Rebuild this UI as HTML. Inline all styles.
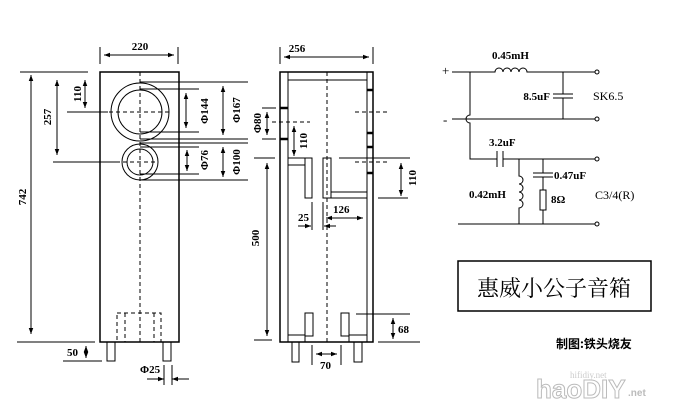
<!DOCTYPE html>
<html><head><meta charset="utf-8"><style>
html,body{margin:0;padding:0;background:#fff}
svg{display:block}
text{font-family:"Liberation Serif","Noto Serif CJK SC",serif;font-weight:bold;font-size:11px;fill:#000}
</style></head><body>
<svg width="680" height="412" viewBox="0 0 680 412" xmlns="http://www.w3.org/2000/svg">
<defs>
<marker id="a" viewBox="0 0 8 8" refX="8" refY="4" markerWidth="6" markerHeight="6" orient="auto-start-reverse"><path d="M0,1 L8,4 L0,7z" fill="#000"/></marker>
</defs>
<g stroke="#000" fill="none" stroke-width="1">
<rect x="100" y="72" width="79" height="270" stroke-width="1.5"/>
<line x1="140" y1="72" x2="140" y2="342" stroke-dasharray="4,3"/>
<circle cx="140" cy="112" r="29"/><circle cx="140" cy="112" r="22"/>
<circle cx="140" cy="162" r="18"/><circle cx="140" cy="162" r="13"/>
<line x1="67" y1="112" x2="170" y2="112" stroke-dasharray="4,3"/>
<line x1="53" y1="162" x2="158" y2="162" stroke-dasharray="4,3"/>
<line x1="67" y1="112" x2="108" y2="112"/><line x1="53" y1="162" x2="120" y2="162"/>
<rect x="117" y="313" width="44" height="29" stroke-dasharray="4,3"/>
<line x1="125" y1="313" x2="125" y2="342" stroke-dasharray="4,3"/>
<line x1="154" y1="313" x2="154" y2="342" stroke-dasharray="4,3"/>
<rect x="107" y="342" width="8" height="19"/><rect x="163" y="342" width="8" height="19"/>
<line x1="100" y1="47" x2="100" y2="64"/><line x1="178" y1="47" x2="178" y2="64"/>
<line x1="104" y1="55" x2="174" y2="55" marker-start="url(#a)" marker-end="url(#a)"/>
<line x1="20" y1="72" x2="88" y2="72"/><line x1="17" y1="342" x2="95" y2="342"/>
<line x1="31" y1="75" x2="31" y2="334" marker-start="url(#a)" marker-end="url(#a)"/>
<line x1="57" y1="80" x2="57" y2="155" marker-start="url(#a)" marker-end="url(#a)"/>
<line x1="85" y1="80" x2="85" y2="108" marker-start="url(#a)" marker-end="url(#a)"/>
<line x1="140" y1="89" x2="199" y2="89"/><line x1="140" y1="132" x2="199" y2="132"/>
<line x1="186" y1="93" x2="186" y2="128" marker-start="url(#a)" marker-end="url(#a)"/>
<line x1="140" y1="82" x2="248" y2="82"/><line x1="140" y1="139" x2="248" y2="139"/>
<line x1="223" y1="86" x2="223" y2="135" marker-start="url(#a)" marker-end="url(#a)"/>
<line x1="140" y1="147" x2="199" y2="147"/><line x1="140" y1="174" x2="199" y2="174"/>
<line x1="187" y1="150" x2="187" y2="171" marker-start="url(#a)" marker-end="url(#a)"/>
<line x1="140" y1="143" x2="248" y2="143"/><line x1="140" y1="180" x2="248" y2="180"/>
<line x1="223" y1="147" x2="223" y2="177" marker-start="url(#a)" marker-end="url(#a)"/>
<line x1="86" y1="346" x2="86" y2="358" marker-start="url(#a)" marker-end="url(#a)"/>
<line x1="63" y1="361" x2="102" y2="361"/>
<line x1="164" y1="365" x2="164" y2="385"/><line x1="172" y1="365" x2="172" y2="385"/>
<line x1="147" y1="379" x2="164" y2="379" marker-end="url(#a)"/>
<line x1="189" y1="379" x2="172" y2="379" marker-end="url(#a)"/>
<rect x="280" y="72" width="93" height="270" stroke-width="1.5"/>
<line x1="288" y1="72" x2="288" y2="342"/><line x1="367" y1="72" x2="367" y2="342"/>
<line x1="288" y1="80" x2="367" y2="80"/>
<line x1="327" y1="72" x2="327" y2="342" stroke-dasharray="4,3"/>
<g stroke-width="2.5">
<line x1="280" y1="108" x2="288" y2="108"/><line x1="280" y1="139" x2="288" y2="139"/>
<line x1="367" y1="90" x2="373" y2="90"/><line x1="367" y1="133" x2="373" y2="133"/>
<line x1="367" y1="147" x2="373" y2="147"/><line x1="367" y1="173" x2="373" y2="173"/>
</g>
<rect x="288" y="158" width="17" height="7"/><rect x="305" y="158" width="7" height="40"/>
<rect x="323" y="158" width="8" height="40"/><rect x="331" y="192" width="36" height="6"/>
<line x1="272" y1="122" x2="310" y2="122" stroke-dasharray="4,3"/>
<line x1="355" y1="112" x2="390" y2="112" stroke-dasharray="4,3"/>
<line x1="355" y1="162" x2="388" y2="162" stroke-dasharray="4,3"/>
<rect x="305" y="313" width="8" height="23"/><rect x="341" y="313" width="8" height="23"/>
<rect x="288" y="335" width="17" height="7"/><rect x="349" y="335" width="18" height="7"/>
<rect x="292" y="342" width="7" height="20"/><rect x="354" y="342" width="8" height="20"/>
<line x1="280" y1="47" x2="280" y2="64"/><line x1="373" y1="47" x2="373" y2="64"/>
<line x1="284" y1="57" x2="369" y2="57" marker-start="url(#a)" marker-end="url(#a)"/>
<line x1="262" y1="108" x2="276" y2="108"/><line x1="262" y1="139" x2="276" y2="139"/>
<line x1="267" y1="112" x2="267" y2="135" marker-start="url(#a)" marker-end="url(#a)"/>
<line x1="294" y1="126" x2="294" y2="156" marker-start="url(#a)" marker-end="url(#a)"/>
<line x1="254" y1="158" x2="275" y2="158"/><line x1="339" y1="158" x2="410" y2="158"/>
<line x1="267" y1="163" x2="267" y2="336" marker-start="url(#a)" marker-end="url(#a)"/>
<line x1="254" y1="340" x2="272" y2="340"/>
<line x1="401" y1="163" x2="401" y2="196" marker-start="url(#a)" marker-end="url(#a)"/>
<line x1="378" y1="198" x2="408" y2="198"/>
<line x1="312" y1="202" x2="312" y2="230"/><line x1="323" y1="202" x2="323" y2="230"/>
<line x1="326" y1="218" x2="363" y2="218" marker-start="url(#a)" marker-end="url(#a)"/>
<line x1="298" y1="226" x2="311" y2="226" marker-end="url(#a)"/>
<line x1="336" y1="226" x2="324" y2="226" marker-end="url(#a)"/>
<line x1="312" y1="345" x2="312" y2="365"/><line x1="341" y1="345" x2="341" y2="365"/>
<line x1="316" y1="354" x2="337" y2="354" marker-start="url(#a)" marker-end="url(#a)"/>
<line x1="356" y1="314" x2="410" y2="314"/><line x1="378" y1="342" x2="420" y2="342"/>
<line x1="393" y1="318" x2="393" y2="339" marker-start="url(#a)" marker-end="url(#a)"/>
<path d="M452,72 H495 a4,4 0 0 1 8,0 a4,4 0 0 1 8,0 a4,4 0 0 1 8,0 a4,4 0 0 1 8,0 H595"/>
<path d="M563,72 V94 M553,94 H573 M553,98 H573 M563,98 V119"/>
<path d="M452,119 H595"/>
<path d="M470,72 V115 a4,4 0 0 0 0,8 V159 H497 M503,159 H595"/>
<path d="M497,151 V167 M503,151 V167"/>
<path d="M519,159 V176 a4,4 0 0 1 0,8 a4,4 0 0 1 0,8 a4,4 0 0 1 0,8 a4,4 0 0 1 0,8 V224"/>
<path d="M543,159 V173 M533,173 H553 M533,177 H553 M543,177 V190 M543,210 V224"/>
<rect x="540" y="190" width="6" height="20"/>
<path d="M458,224 H595"/>
<g fill="#fff"><circle cx="597" cy="72" r="2"/><circle cx="597" cy="119" r="2"/><circle cx="597" cy="159" r="2"/><circle cx="597" cy="224" r="2"/></g>
<rect x="458" y="261" width="193" height="50" stroke-width="1.5"/>
</g>
<text x="140" y="50" text-anchor="middle">220</text>
<text x="297" y="52" text-anchor="middle">256</text>
<text transform="translate(26,197) rotate(-90)" text-anchor="middle">742</text>
<text transform="translate(51,117) rotate(-90)" text-anchor="middle">257</text>
<text transform="translate(81,94) rotate(-90)" text-anchor="middle">110</text>
<text transform="translate(208,111) rotate(-90)" text-anchor="middle">Φ144</text>
<text transform="translate(240,110) rotate(-90)" text-anchor="middle">Φ167</text>
<text transform="translate(208,160) rotate(-90)" text-anchor="middle">Φ76</text>
<text transform="translate(240,162) rotate(-90)" text-anchor="middle">Φ100</text>
<text x="67" y="356">50</text>
<text x="140" y="373">Φ25</text>
<text transform="translate(261,123) rotate(-90)" text-anchor="middle">Φ80</text>
<text transform="translate(307,141) rotate(-90)" text-anchor="middle">110</text>
<text transform="translate(259,238) rotate(-90)" text-anchor="middle">500</text>
<text transform="translate(416,178) rotate(-90)" text-anchor="middle">110</text>
<text x="333" y="213">126</text>
<text x="298" y="221">25</text>
<text x="320" y="369">70</text>
<text x="398" y="333">68</text>
<text x="442" y="75" style="font-weight:normal;font-size:13px">+</text>
<text x="443" y="124" style="font-weight:normal;font-size:13px">-</text>
<text x="492" y="59">0.45mH</text>
<text x="550" y="100" text-anchor="end">8.5uF</text>
<text x="593" y="100" style="font-weight:normal;font-size:12px">SK6.5</text>
<text x="489" y="146">3.2uF</text>
<text x="554" y="179">0.47uF</text>
<text x="469" y="198">0.42mH</text>
<text x="551" y="203">8Ω</text>
<text x="595" y="199" style="font-weight:normal;font-size:12px">C3/4(R)</text>
<text x="554" y="296" text-anchor="middle" style="font-weight:normal;font-size:22px;font-family:'Noto Serif CJK SC',serif">惠威小公子音箱</text>
<text x="556" y="348" style="font-size:12px;font-family:'Noto Sans CJK SC',sans-serif">制图:铁头烧友</text>
<text x="570" y="378" style="font-weight:normal;font-size:9px;fill:#ccc">hifidiy.net</text>
<text x="536" y="398" style="font-size:26px;fill:#fff;stroke:#bbb;stroke-width:1;font-family:'Liberation Sans',sans-serif">haoDIY</text>
<text x="628" y="396" style="font-size:10px;fill:#bbb;font-family:'Liberation Sans',sans-serif">.net</text>
</svg>
</body></html>
